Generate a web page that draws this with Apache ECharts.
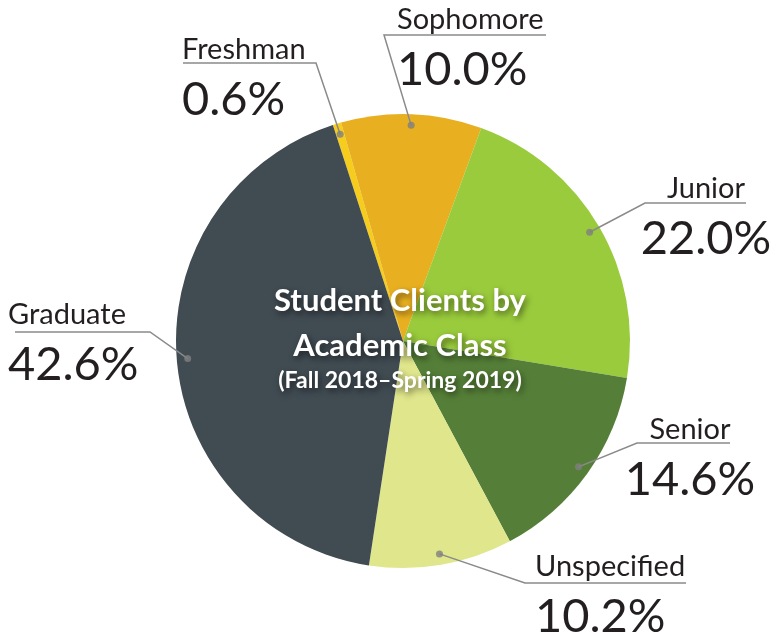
<!DOCTYPE html>
<html>
<head>
<meta charset="utf-8">
<script src="https://cdn.jsdelivr.net/npm/echarts@6/dist/echarts.min.js"></script>
<style>
  html, body { margin: 0; padding: 0; background: #fff; }
  #chart { width: 779px; height: 636px; }
</style>
</head>
<body>
<div id="chart"></div>
<script>
// data, clockwise from the top
const classNames = ['Freshman', 'Sophomore', 'Junior', 'Senior', 'Unspecified', 'Graduate'];
const sharePct = [0.6, 10.0, 22.0, 14.6, 10.2, 42.6];
const sliceColors = ['#f7cd1d', '#e8b021', '#9acb3c', '#557f38', '#e0e68b', '#404b52'];

// where each callout sits: text anchor + elbow + end of the underline
const calloutPlaces = [
    { x: 182, y: 30,  align: 'left',   bend: [316, 63],  end: [183, 63] },
    { x: 397, y: 0,   align: 'left',   bend: [384, 35],  end: [546, 35] },
    { x: 706, y: 169, align: 'center', bend: [645, 203], end: [746, 203] },
    { x: 690, y: 410, align: 'center', bend: [637, 443], end: [730, 443] },
    { x: 535, y: 547, align: 'left',   bend: [525, 583], end: [686, 583] },
    { x: 8,   y: 295, align: 'left',   bend: [150, 332], end: [15, 332] }
];

const pieCenter = [403, 341];
const pieRadius = 227;
const dotRadius = 216;
const labelFont = 'Lato, "Open Sans", sans-serif';

const pieData = classNames.map((name, i) => ({
    name: name,
    value: sharePct[i],
    itemStyle: { color: sliceColors[i] }
}));

// mid-angle of every slice, in percent of the circle, for the callout dots
let running = 0;
const dotData = sharePct.map(v => {
    const mid = running + v / 2;
    running += v;
    return [dotRadius / pieRadius, mid];
});

const titleShadow = {
    textShadowColor: 'rgba(0,0,0,0.55)',
    textShadowBlur: 6,
    textShadowOffsetX: 2,
    textShadowOffsetY: 3
};

const chart = echarts.init(document.getElementById('chart'));

chart.setOption({
    animation: false,
    title: {
        text: 'Student Clients by\nAcademic Class',
        subtext: '(Fall 2018\u2013Spring 2019)',
        left: 400,
        top: 278,
        textAlign: 'center',
        padding: 0,
        itemGap: 0,
        z: 10,
        textStyle: Object.assign({
            fontFamily: labelFont,
            fontWeight: 'bold',
            fontSize: 31,
            lineHeight: 45,
            color: '#fff'
        }, titleShadow),
        subtextStyle: Object.assign({
            fontFamily: labelFont,
            fontWeight: 'bold',
            fontSize: 23,
            lineHeight: 26,
            color: '#fff'
        }, titleShadow)
    },
    polar: { center: pieCenter, radius: pieRadius },
    angleAxis: { type: 'value', min: 0, max: 100, startAngle: 108, clockwise: true, show: false },
    radiusAxis: { type: 'value', min: 0, max: 1, show: false },
    series: [
        {
            type: 'pie',
            center: pieCenter,
            radius: pieRadius,
            startAngle: 108,
            clockwise: true,
            silent: true,
            label: { show: false },
            labelLine: { show: false },
            itemStyle: { borderWidth: 0 },
            data: pieData
        },
        {
            // invisible copy, only there to carry the callouts from inside the slices
            type: 'pie',
            center: pieCenter,
            radius: dotRadius,
            startAngle: 108,
            clockwise: true,
            silent: true,
            avoidLabelOverlap: false,
            z: 5,
            itemStyle: { color: 'rgba(0,0,0,0)', borderWidth: 0 },
            label: {
                show: true,
                position: 'outside',
                color: '#231f20',
                fontFamily: labelFont,
                formatter: p => `{name|${p.name}}\n{pct|${p.value.toFixed(1)}%}`,
                rich: {
                    name: { fontFamily: labelFont, fontSize: 29, lineHeight: 40, color: '#231f20' },
                    pct: { fontFamily: labelFont, fontSize: 47, lineHeight: 60, color: '#231f20' }
                }
            },
            labelLine: { show: true, lineStyle: { color: '#8a8a8a', width: 1.5 } },
            labelLayout: params => {
                const place = calloutPlaces[params.dataIndex];
                const start = params.labelLinePoints ? params.labelLinePoints[0] : place.bend;
                return {
                    x: place.x,
                    y: place.y,
                    align: place.align,
                    verticalAlign: 'top',
                    labelLinePoints: [start, place.bend, place.end]
                };
            },
            data: classNames.map((name, i) => ({ name: name, value: sharePct[i] }))
        },
        {
            type: 'scatter',
            coordinateSystem: 'polar',
            symbolSize: 7,
            silent: true,
            z: 6,
            itemStyle: { color: '#808080' },
            data: dotData
        }
    ]
});
</script>
</body>
</html>
